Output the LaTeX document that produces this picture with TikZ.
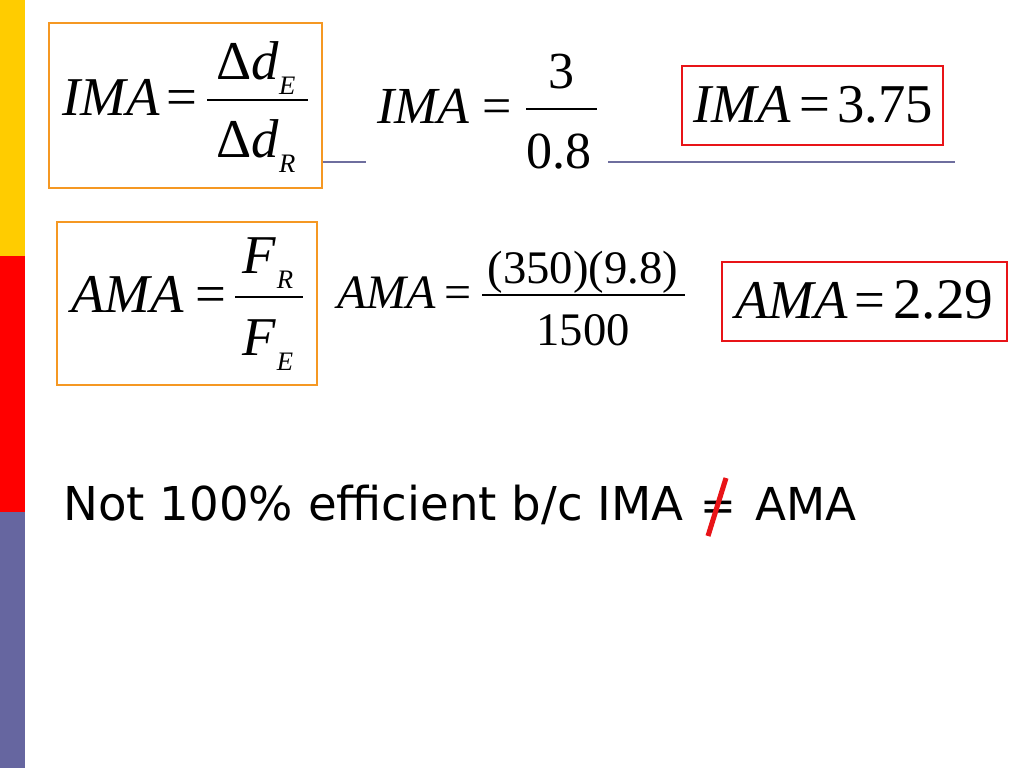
\documentclass[tikz,border=0pt]{standalone}
\usepackage{fontspec}
\setmainfont{Liberation Serif}
\newfontfamily\slidefont{DejaVu Sans}
\definecolor{baryellow}{RGB}{255,204,0}
\definecolor{barred}{RGB}{255,0,0}
\definecolor{barslate}{RGB}{102,102,160}
\definecolor{boxorange}{RGB}{245,152,35}
\definecolor{boxred}{RGB}{232,20,24}
\definecolor{rulegray}{RGB}{110,110,158}
\tikzset{
  eqtext/.style={anchor=base west, inner sep=0pt, font=\fontsize{#1}{#1}\selectfont},
  eqsign/.style={anchor=base, inner sep=0pt, font=\fontsize{#1}{#1}\selectfont},
  fracpart/.style={anchor=base, inner sep=0pt, font=\fontsize{#1}{#1}\selectfont},
  fracbar/.style={line width=1.5pt},
  orangebox/.style={draw=boxorange, line width=2.2pt},
  redbox/.style={draw=boxred, line width=2.2pt},
  rule/.style={draw=rulegray, line width=1.5pt}
}
% subscript dropped below the baseline
\newcommand{\lowsub}[1]{\raisebox{-0.28em}{\fontsize{20}{20}\selectfont\textit{#1}}}
\begin{document}
\begin{tikzpicture}[x=0.75pt,y=-0.75pt]
      \useasboundingbox[fill=white] (0,0) rectangle (1024,768);
      % side bar
      \fill[baryellow] (0,0) rectangle (25,256);
      \fill[barred] (0,256) rectangle (25,512);
      \fill[barslate] (0,512) rectangle (25,768);

      % rules
      \draw[rule] (323,162) -- (366,162);
      \draw[rule] (608,162) -- (955,162);

      % IMA definition
      \draw[orangebox] (49,23) rectangle (322,188);
      \node[eqtext=41] (imaL) at (62,115) {\textit{IMA}};
      \node[eqsign=41] (imaEq) at (182,115) {=};
      \draw[fracbar] (207,100) -- (308,100);
      \node[fracpart=41] (dE) at (256,79) {Δ\textit{d}\lowsub{E}};
      \node[fracpart=41] (dR) at (256,157) {Δ\textit{d}\lowsub{R}};

      % IMA numbers
      \node[eqtext=39] (imaL2) at (377,123) {\textit{IMA}};
      \node[eqsign=39] (imaEq2) at (497,123) {=};
      \draw[fracbar] (526,109) -- (597,109);
      \node[fracpart=39] (three) at (561,88) {3};
      \node[fracpart=39] (pt8) at (559,168) {0.8};

      % IMA result
      \draw[redbox] (682,66) rectangle (943,145);
      \node[eqtext=41] (imaL3) at (693,122) {\textit{IMA}};
      \node[eqsign=41] (imaEq3) at (815,122) {=};
      \node[eqtext=41] (imaRes) at (837,122) {3.75};

      % AMA definition
      \draw[orangebox] (57,222) rectangle (317,385);
      \node[eqtext=41] (amaL) at (71,312) {\textit{AMA}};
      \node[eqsign=41] (amaEq) at (211,312) {=};
      \draw[fracbar] (235,297) -- (303,297);
      \node[fracpart=41] (FR) at (268,273) {\textit{F}\lowsub{R}};
      \node[fracpart=41] (FE) at (268,355) {\textit{F}\lowsub{E}};

      % AMA numbers
      \node[eqtext=36] (amaL2) at (337,308) {\textit{AMA}};
      \node[eqsign=36] (amaEq2) at (458,308) {=};
      \draw[fracbar] (482,295) -- (685,295);
      \node[fracpart=35] (load) at (583,283) {(350)(9.8)};
      \node[fracpart=35] (effort) at (583,345) {1500};

      % AMA result
      \draw[redbox] (722,262) rectangle (1007,341);
      \node[eqtext=41] (amaL3) at (735,318) {\textit{AMA}};
      \node[eqsign=41] (amaEq3) at (870,318) {=};
      \node[eqtext=43] (amaRes) at (893,318) {2.29};

      % conclusion
      \node[eqtext=35, font=\slidefont\fontsize{35}{40}\selectfont] (concl) at (63,520)
        {Not 100\% efficient b/c IMA};
      \node[eqsign=35, font=\slidefont\fontsize{32}{40}\selectfont] (neq) at (718,520) {=};
      \node[eqtext=35, font=\slidefont\fontsize{34}{40}\selectfont] (amaTxt) at (755,520) {AMA};
      \draw[boxred, line width=3.8pt] (708,536) -- (726,478);
    \end{tikzpicture}
\end{document}
